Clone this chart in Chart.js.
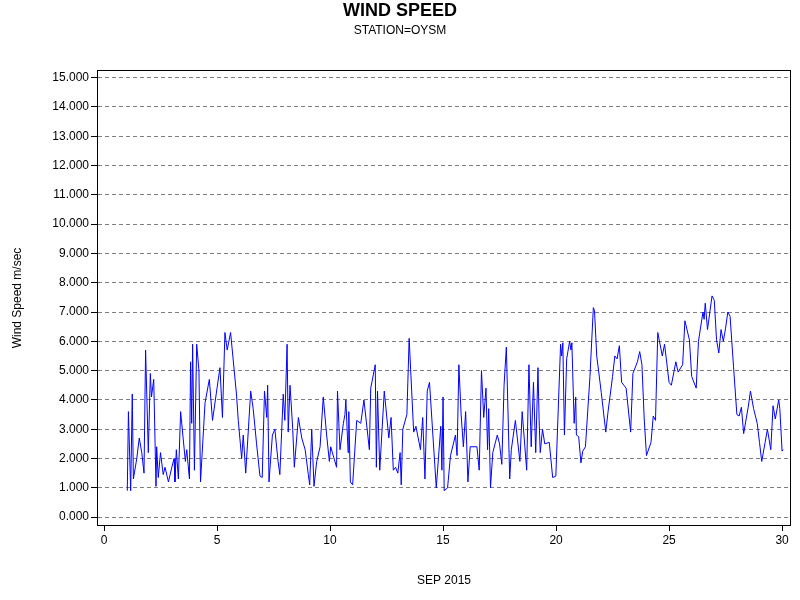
<!DOCTYPE html>
<html>
<head>
<meta charset="utf-8">
<script src="https://cdn.jsdelivr.net/npm/chart.js@4"></script>
<style>
  body { margin: 0; background: #fff; }
  #wrap { width: 800px; height: 600px; }
</style>
</head>
<body>
<div id="wrap"><canvas id="windChart"></canvas></div>
<script>
// day of month (fractional) and wind speed m/sec
const days = [
  1.03, 1.08, 1.18, 1.25, 1.3, 1.45, 1.56, 1.67, 1.77, 1.84, 1.96, 2.05, 2.1, 2.2, 2.3, 2.33, 2.4, 2.5, 2.62, 2.7,
  2.85, 3.0, 3.1, 3.14, 3.2, 3.29, 3.39, 3.5, 3.6, 3.66, 3.78, 3.83, 3.88, 3.92, 4.0, 4.1, 4.2, 4.27, 4.47, 4.66,
  4.8, 5.0, 5.13, 5.24, 5.35, 5.45, 5.6, 5.86, 5.94, 6.09, 6.16, 6.27, 6.49, 6.6, 6.75, 6.9, 7.0, 7.1, 7.2, 7.24,
  7.3, 7.45, 7.56, 7.7, 7.78, 7.93, 8.0, 8.1, 8.15, 8.23, 8.35, 8.42, 8.6, 8.75, 8.9, 9.04, 9.1, 9.19, 9.29, 9.41,
  9.56, 9.7, 9.85, 9.97, 10.03, 10.29, 10.33, 10.44, 10.59, 10.66, 10.7, 10.8, 10.83, 10.9, 11.0, 11.18, 11.36, 11.5, 11.74, 11.8,
  12.0, 12.05, 12.1, 12.2, 12.4, 12.6, 12.7, 12.8, 12.9, 13.0, 13.1, 13.15, 13.22, 13.4, 13.5, 13.7, 13.8, 14.0, 14.1, 14.2,
  14.3, 14.4, 14.7, 14.9, 14.95, 15.0, 15.05, 15.2, 15.33, 15.55, 15.62, 15.7, 15.8, 15.9, 16.0, 16.1, 16.2, 16.5, 16.6, 16.7,
  16.8, 16.9, 16.97, 17.02, 17.1, 17.2, 17.4, 17.5, 17.6, 17.7, 17.8, 17.95, 18.02, 18.2, 18.4, 18.5, 18.7, 18.8, 18.9, 19.0,
  19.1, 19.2, 19.25, 19.3, 19.4, 19.5, 19.7, 19.85, 19.99, 20.2, 20.25, 20.3, 20.37, 20.47, 20.6, 20.66, 20.7, 20.8, 20.87, 20.9,
  21.0, 21.1, 21.18, 21.3, 21.5, 21.65, 21.7, 21.8, 22.0, 22.2, 22.3, 22.5, 22.6, 22.7, 22.8, 22.9, 23.0, 23.1, 23.3, 23.4,
  23.6, 23.7, 23.8, 23.9, 24.0, 24.2, 24.3, 24.4, 24.5, 24.7, 24.8, 25.0, 25.1, 25.3, 25.4, 25.6, 25.7, 25.9, 26.0, 26.2,
  26.3, 26.5, 26.55, 26.6, 26.7, 26.9, 27.0, 27.1, 27.2, 27.3, 27.4, 27.5, 27.6, 27.7, 27.85, 28.0, 28.1, 28.2, 28.3, 28.5,
  28.6, 28.74, 28.9, 29.0, 29.1, 29.25, 29.35, 29.5, 29.6, 29.7, 29.85, 29.9, 30.0, 30.05
];
const speeds = [
  0.9, 3.6, 0.9, 4.2, 1.3, 2.0, 2.7, 2.2, 1.5, 5.7, 2.2, 4.9, 4.1, 4.7, 1.05, 2.4, 1.35, 2.2, 1.45, 1.7,
  1.2, 1.7, 2.0, 1.2, 2.3, 1.3, 3.6, 2.7, 1.9, 2.3, 1.3, 5.3, 3.2, 5.9, 1.6, 5.9, 5.0, 1.2, 3.9, 4.7,
  3.3, 4.4, 5.1, 3.4, 6.3, 5.7, 6.3, 4.2, 3.3, 2.0, 2.8, 1.5, 4.3, 3.7, 2.5, 1.4, 1.35, 4.3, 3.4, 4.5,
  1.2, 2.8, 3.0, 1.9, 1.45, 4.2, 3.3, 5.9, 2.9, 4.5, 3.0, 1.7, 3.4, 2.7, 2.3, 1.45, 1.1, 3.0, 1.05, 1.9,
  2.4, 4.1, 2.8, 1.9, 2.4, 1.7, 4.3, 2.3, 3.2, 3.5, 4.0, 2.2, 3.6, 1.2, 1.1, 3.3, 3.2, 4.0, 2.3, 4.4,
  5.2, 1.7, 4.3, 1.6, 4.3, 2.7, 3.4, 1.6, 1.7, 1.5, 2.2, 1.1, 3.0, 3.5, 6.1, 2.9, 3.1, 2.3, 3.4, 1.3,
  4.3, 4.6, 1.0, 3.1, 1.6, 4.1, 0.9, 1.0, 2.1, 2.8, 2.1, 5.2, 3.5, 2.4, 3.6, 1.2, 2.4, 2.4, 1.6, 5.0,
  3.4, 4.4, 2.3, 3.7, 1.0, 2.2, 2.8, 2.5, 1.8, 4.5, 5.8, 1.3, 2.3, 3.3, 1.9, 3.6, 1.6, 5.2, 2.4, 4.6,
  2.2, 5.1, 3.3, 2.2, 3.0, 2.5, 2.55, 1.35, 1.4, 5.9, 5.5, 5.95, 2.8, 5.4, 6.0, 5.7, 5.95, 3.2, 4.1, 2.8,
  2.75, 1.85, 2.25, 2.4, 4.8, 7.15, 7.05, 5.5, 4.25, 2.9, 3.6, 4.8, 5.5, 5.4, 5.85, 4.6, 4.5, 4.4, 2.9, 4.9,
  5.3, 5.65, 5.2, 3.35, 2.1, 2.55, 3.45, 3.3, 6.3, 5.5, 5.9, 4.6, 4.5, 5.3, 4.95, 5.2, 6.7, 6.05, 4.8, 4.4,
  6.0, 7.0, 6.75, 7.3, 6.4, 7.55, 7.4, 6.05, 5.6, 6.4, 6.0, 6.45, 7.0, 6.85, 5.15, 3.5, 3.45, 3.75, 2.85, 3.75,
  4.3, 3.7, 3.2, 2.55, 1.9, 2.55, 3.0, 2.3, 3.8, 3.35, 4.0, 3.7, 2.25, 2.3
];
const yTicks = [0, 1, 2, 3, 4, 5, 6, 7, 8, 9, 10, 11, 12, 13, 14, 15];
const xTicks = [0, 5, 10, 15, 20, 25, 30];

const points = days.map((d, i) => ({ x: d, y: speeds[i] }));
const font = 'Liberation Sans, Arial, sans-serif';

const textPlugin = {
    id: 'texts',
    afterDraw(chart) {
        const ctx = chart.ctx;
        const a = chart.chartArea;
        ctx.save();
        ctx.strokeStyle = '#000';
        ctx.lineWidth = 1;
        ctx.strokeRect(Math.round(a.left) + 0.5, Math.round(a.top) + 0.5, Math.round(a.right - a.left), Math.round(a.bottom - a.top));
        ctx.fillStyle = '#000';
        ctx.textAlign = 'center';
        ctx.textBaseline = 'middle';
        ctx.font = 'bold 18px ' + font;
        ctx.fillText('WIND SPEED', 400, 11);
        ctx.font = '12px ' + font;
        ctx.fillText('STATION=OYSM', 400, 31);
        ctx.fillText('SEP 2015', 444, 581);
        ctx.translate(18, 298);
        ctx.rotate(-Math.PI / 2);
        ctx.fillText('Wind Speed m/sec', 0, 0);
        ctx.restore();
    }
};

new Chart(document.getElementById('windChart'), {
    type: 'line',
    data: {
        datasets: [{
            data: points,
            borderColor: '#0000ff',
            borderWidth: 1,
            pointRadius: 0,
            tension: 0,
            fill: false
        }]
    },
    options: {
        responsive: true,
        maintainAspectRatio: false,
        animation: false,
        layout: { padding: { top: 70, right: 10, left: 0, bottom: 0 } },
        plugins: { legend: { display: false }, tooltip: { enabled: false } },
        scales: {
            x: {
                type: 'linear',
                min: -0.31,
                max: 30.35,
                afterBuildTicks: s => { s.ticks = xTicks.map(v => ({ value: v })); },
                afterFit: s => { s.height = 75; },
                grid: { drawOnChartArea: false, tickLength: 6, color: '#000' },
                border: { color: '#000' },
                ticks: { color: '#000', font: { family: font, size: 12 }, padding: 2, maxRotation: 0 }
            },
            y: {
                min: -0.27,
                max: 15.26,
                afterBuildTicks: s => { s.ticks = yTicks.map(v => ({ value: v })); },
                afterFit: s => { s.width = 97; },
                grid: { color: '#808080', tickColor: '#000', tickLength: 6, tickBorderDash: [], tickBorderDashOffset: 0 },
                border: { color: '#000', dash: [4, 3] },
                ticks: {
                    color: '#000', font: { family: font, size: 12 }, padding: 2,
                    callback: v => v.toFixed(3)
                }
            }
        }
    },
    plugins: [textPlugin]
});
</script>
</body>
</html>
